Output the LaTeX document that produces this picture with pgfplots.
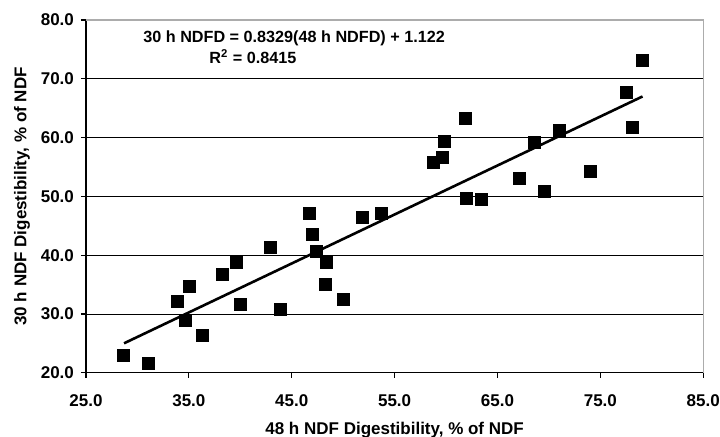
\documentclass[border=0pt]{standalone}
\usepackage{pgfplots}
\pgfplotsset{compat=1.18}
\usepackage{fontspec}
\setmainfont{Liberation Sans}

\pgfplotstableread{
x y
28.6 22.9
31.1 21.6
33.9 32.1
35.1 34.7
34.7 29.0
36.3 26.4
38.3 36.8
39.6 38.8
40.0 31.7
42.9 41.4
43.9 30.8
46.7 47.2
47.0 43.6
47.4 40.7
48.4 38.8
48.3 35.1
50.0 32.5
51.9 46.5
53.7 47.1
58.8 55.8
59.6 56.7
59.8 59.4
61.9 63.2
62.0 49.6
63.4 49.5
67.1 53.0
68.6 59.2
69.6 50.9
71.0 61.3
74.0 54.3
77.5 67.7
78.1 61.7
79.1 73.2
}\ndfdata

\begin{document}
\begin{tikzpicture}
\begin{axis}[
    scale only axis,
    width=308.7pt, height=176.5pt,
    xmin=25, xmax=85, ymin=20, ymax=80,
    xtick={25,35,45,55,65,75,85},
    ytick={20,30,40,50,60,70,80},
    axis lines*=left,
    axis line style={-, black, line width=0.6pt},
    tick align=outside,
    major tick length=2.5pt,
    tick style={black, line width=0.6pt},
    ymajorgrids,
    major grid style={black, line width=0.5pt},
    tick label style={font=\fontsize{8.5}{10}\selectfont\bfseries},
    label style={font=\fontsize{8.5}{10}\selectfont\bfseries},
    xticklabel style={yshift=-5pt},
    /pgf/number format/assume math mode=true,
    /pgf/number format/.cd, fixed, fixed zerofill, precision=1, /pgfplots/.cd,
    xlabel={48 h NDF Digestibility, \% of NDF},
    ylabel={30 h NDF Digestibility, \% of NDF},
    xlabel style={at={(rel axis cs:0.5,0)}, anchor=center, yshift=-28.5pt},
    ylabel style={at={(rel axis cs:0,0.5)}, anchor=center, yshift=32pt},
    clip=false,
]
\addplot[only marks, mark=square*, mark size=3pt, black] table {\ndfdata};
\addplot[black, line width=1.3pt] coordinates {(28.7,25.03) (79.1,67.00)};
\draw[gray!65, line width=0.7pt] (rel axis cs:0,1) -- (rel axis cs:1,1) -- (rel axis cs:1,0);
\node[font=\fontsize{8.1}{9}\selectfont\bfseries, anchor=west, inner sep=0pt] at (axis cs:30.54,76.85)
  {30 h NDFD = 0.8329(48 h NDFD) + 1.122};
\node[font=\fontsize{8.1}{9}\selectfont\bfseries, anchor=west, inner sep=0pt] at (axis cs:36.95,73.8)
  {R$^{\mathbf{2}}$ = 0.8415};
\coordinate (bl) at (rel axis cs:0,0);
\coordinate (tr) at (rel axis cs:1,1);
\end{axis}
\pgfresetboundingbox
\path ([shift={(-43pt,-32pt)}]bl) rectangle ([shift={(8.4pt,10pt)}]tr);
\end{tikzpicture}
\end{document}
